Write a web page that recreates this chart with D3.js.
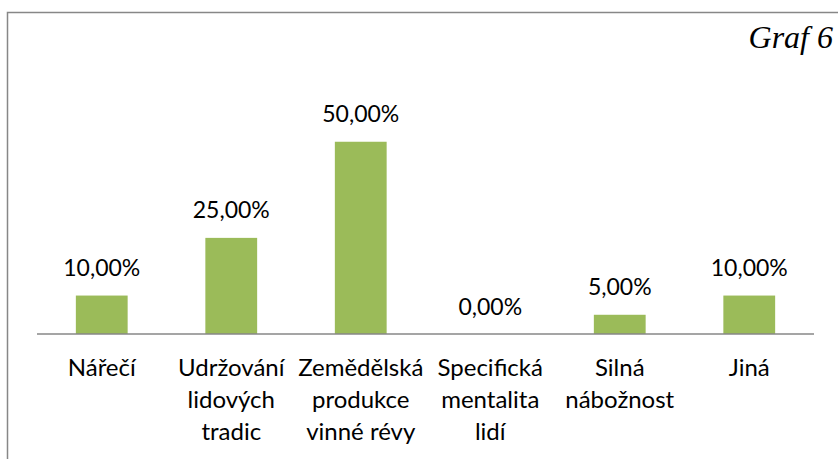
<!DOCTYPE html>
<html>
<head>
<meta charset="utf-8">
<script src="https://cdn.jsdelivr.net/npm/d3@7"></script>
<style>
  html, body { margin: 0; padding: 0; background: #fff; }
  svg { display: block; }
</style>
</head>
<body>
<svg id="chart" width="838" height="459"></svg>
<script>
// Category names, one entry per wrapped line of the axis label
const categories = ["Nářečí", "Udržování lidových tradic", "Zemědělská produkce vinné révy", "Specifická mentalita lidí", "Silná nábožnost", "Jiná"];
const categoryLines = [
  ["Nářečí"],
  ["Udržování", "lidových", "tradic"],
  ["Zemědělská", "produkce", "vinné révy"],
  ["Specifická", "mentalita", "lidí"],
  ["Silná", "nábožnost"],
  ["Jiná"]
];
const shares = [0.10, 0.25, 0.50, 0.00, 0.05, 0.10];
const chartTitle = "Graf 6";

const svg = d3.select("#chart");
const fontFamily = "Lato, 'Open Sans', sans-serif";

// Outer frame (only the top and left edges fall inside the view)
svg.append("path")
  .attr("d", "M7.5,459 V12.5 H838")
  .attr("fill", "none")
  .attr("stroke", "#878787")
  .attr("stroke-width", 1.5);

const x = d3.scaleBand()
  .domain(categories)
  .range([37, 814])
  .paddingInner(0.6)
  .paddingOuter(0.3);

const y = d3.scaleLinear()
  .domain([0, 0.6])
  .range([334, 103.3]);

const fmt = v => d3.format(".2f")(v * 100).replace(".", ",") + "%";

// Bars
svg.append("g").selectAll("rect")
  .data(shares)
  .join("rect")
  .attr("x", (d, i) => x(categories[i]))
  .attr("y", d => y(d))
  .attr("width", x.bandwidth())
  .attr("height", d => y(0) - y(d))
  .attr("fill", "#9BBB59");

// Category axis line
svg.append("line")
  .attr("x1", 37).attr("x2", 814)
  .attr("y1", y(0)).attr("y2", y(0))
  .attr("stroke", "#878787")
  .attr("stroke-width", 1.5);

// Value labels
svg.append("g").selectAll("text")
  .data(shares)
  .join("text")
  .attr("x", (d, i) => x(categories[i]) + x.bandwidth() / 2)
  .attr("y", d => y(d) - 19.5)
  .attr("text-anchor", "middle")
  .attr("font-family", fontFamily)
  .attr("font-size", 23)
  .attr("fill", "#000")
  .text(d => fmt(d));

// Category labels
const catG = svg.append("g").selectAll("text")
  .data(categories)
  .join("text")
  .attr("text-anchor", "middle")
  .attr("font-family", fontFamily)
  .attr("font-size", 24)
  .attr("fill", "#000");

catG.each(function(c, i) {
  const cx = x(c) + x.bandwidth() / 2;
  d3.select(this).selectAll("tspan")
    .data(categoryLines[i])
    .join("tspan")
    .attr("x", cx)
    .attr("y", (d, j) => 376 + j * 32)
    .text(d => d);
});

// Chart caption
svg.append("text")
  .attr("x", 833)
  .attr("y", 48)
  .attr("text-anchor", "end")
  .attr("font-family", "'Liberation Serif', 'Times New Roman', serif")
  .attr("font-style", "italic")
  .attr("font-size", 32)
  .attr("fill", "#000")
  .text(chartTitle);
</script>
</body>
</html>
